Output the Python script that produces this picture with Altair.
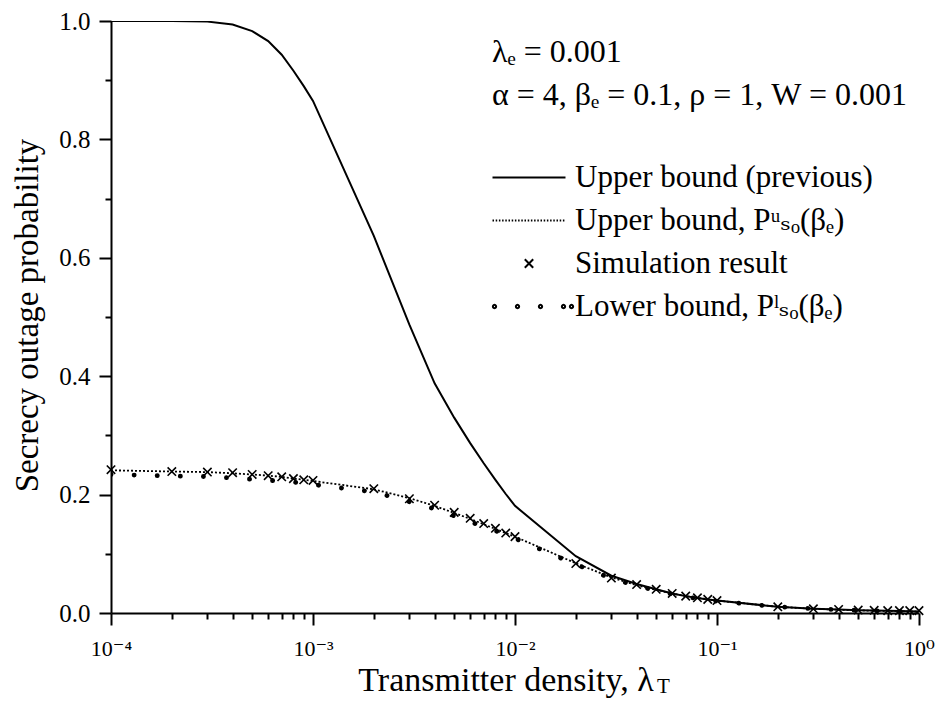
import altair as alt
import pandas as pd

# ---------------- data ----------------
x_vals = [0.0001, 0.0002, 0.0003, 0.0004, 0.0005, 0.0006, 0.0007, 0.0008, 0.0009,
          0.001, 0.002, 0.003, 0.004, 0.005, 0.006, 0.007, 0.008, 0.009,
          0.01, 0.02, 0.03, 0.04, 0.05, 0.06, 0.07, 0.08, 0.09,
          0.1, 0.2, 0.3, 0.4, 0.5, 0.6, 0.7, 0.8, 0.9, 1.0]

upper_prev = [1.0, 1.0, 0.999, 0.994, 0.983, 0.966, 0.943, 0.916, 0.890,
              0.865, 0.637, 0.487, 0.388, 0.330, 0.287, 0.253, 0.225, 0.201,
              0.181, 0.096, 0.063, 0.049, 0.040, 0.033, 0.0285, 0.0255, 0.0228,
              0.021, 0.0105, 0.0072, 0.0058, 0.0048, 0.0041, 0.0036, 0.0032, 0.0029, 0.0026]

upper_pu = [0.241, 0.239, 0.238, 0.236, 0.234, 0.232, 0.230, 0.227, 0.225,
            0.223, 0.209, 0.194, 0.181, 0.169, 0.159, 0.150, 0.142, 0.135,
            0.129, 0.084, 0.060, 0.047, 0.039, 0.033, 0.0285, 0.0255, 0.023,
            0.021, 0.0105, 0.0071, 0.0055, 0.0045, 0.0038, 0.0033, 0.0030, 0.0027, 0.0024]

sim = [0.242, 0.239, 0.238, 0.237, 0.234, 0.232, 0.230, 0.227, 0.225,
       0.224, 0.210, 0.193, 0.182, 0.170, 0.160, 0.151, 0.143, 0.135,
       0.129, 0.0835, 0.059, 0.048, 0.040, 0.033, 0.0285, 0.0256, 0.023,
       0.021, 0.0105, 0.0071, 0.006, 0.005, 0.0045, 0.004, 0.004, 0.004, 0.004]

lower = [0.234, 0.2315, 0.2305, 0.228, 0.226, 0.2243, 0.2228, 0.221, 0.219,
         0.217, 0.2045, 0.188, 0.176, 0.164, 0.154, 0.146, 0.139, 0.133,
         0.126, 0.082, 0.0585, 0.046, 0.038, 0.032, 0.0275, 0.0245, 0.022,
         0.020, 0.0105, 0.0072, 0.0055, 0.0045, 0.0038, 0.0033, 0.0029, 0.0026, 0.0023]

series_names = ["Upper bound (previous)",
                "Upper bound, P\u1d58\u209b\u2092(\u03b2\u2091)",
                "Simulation result",
                "Lower bound, P\u02e1\u209b\u2092(\u03b2\u2091)"]

x_major = [0.0001, 0.001, 0.01, 0.1, 1.0]
x_major_labels = ["10\u207b\u2074", "10\u207b\u00b3", "10\u207b\u00b2", "10\u207b\u00b9", "10\u2070"]
x_minor = [v for v in x_vals if v not in x_major]
y_major = [0.0, 0.2, 0.4, 0.6, 0.8, 1.0]
y_minor = [0.1, 0.3, 0.5, 0.7, 0.9]

annotations = ["\u03bb\u2091 = 0.001", "\u03b1 = 4, \u03b2\u2091 = 0.1, \u03c1 = 1, W = 0.001"]
x_title = "Transmitter density, \u03bb"
x_title_sub = "T"
y_title = "Secrecy outage probability"

# ---------------- build table ----------------
rows = []
for vals, name in zip([upper_prev, upper_pu, sim, lower], series_names):
    for xv, yv in zip(x_vals, vals):
        rows.append({"x": xv, "y": yv, "series": name})
df = pd.DataFrame(rows)

FONT = "'Liberation Serif', 'Times New Roman', Tinos, 'Nimbus Roman', 'DejaVu Serif', 'Noto Serif', serif"
W, H = 808, 592

# legend symbol paths (1 unit = 7 px for symbol size 196)
U = 7.0
L = 36.5 / U
solid_path = f"M{-L:.3f},0L{L:.3f},0"
dot_step = 3.2 / U
dot_len = 1.5 / U
segs = []
p = -L
while p < L:
    segs.append(f"M{p:.3f},0L{min(p + dot_len, L):.3f},0")
    p += dot_step
dotted_path = "".join(segs)
xs = 0.6
cross_path = f"M{-xs},{-xs}L{xs},{xs}M{xs},{-xs}L{-xs},{xs}"
r = 1.6 / U
circ = []
for c in [-34.5, -11.5, 11.5, 34.5, 42.5]:
    cu = c / U
    circ.append(f"M{cu - r:.3f},0a{r:.3f},{r:.3f} 0 1,0 {2*r:.3f},0a{r:.3f},{r:.3f} 0 1,0 {-2*r:.3f},0")
bigdot_path = "".join(circ)

xscale = alt.Scale(type="log", domain=[0.0001, 1.0], nice=False)
yscale = alt.Scale(domain=[0.0, 1.0], nice=False, zero=False)

common_axis = dict(grid=False, domainColor="black", domainWidth=2, tickColor="black",
                   tickWidth=2, labelFont=FONT, labelColor="black",
                   titleFont=FONT, titleColor="black", titleFontWeight="normal")

label_expr = "[" + ",".join(f"'{s}'" for s in x_major_labels) + "][round(log(datum.value)/LN10)+4]"

x_axis_major = alt.Axis(values=x_major, labelExpr=label_expr, tickSize=12, labelPadding=13,
                        labelFontSize=22,
                        labelOverlap=False, labelFlush=False, title=x_title, titleFontSize=34,
                        titleX=394.5, titleY=77, titleBaseline="alphabetic", titleAlign="center",
                        orient="bottom", **common_axis)
y_axis_major = alt.Axis(values=y_major, format=".1f", tickSize=12, labelPadding=9,
                        labelFontSize=25,
                        labelOverlap=False, labelFlush=False, title=y_title, titleFontSize=33,
                        titleX=-74, titleY=H / 2 - 2, titleAngle=270, titleBaseline="alphabetic",
                        titleAlign="center", orient="left", **common_axis)
x_axis_minor = alt.Axis(values=x_minor, labels=False, tickSize=6, domain=False, title=None,
                        orient="bottom", grid=False, tickColor="black", tickWidth=2)
y_axis_minor = alt.Axis(values=y_minor, labels=False, tickSize=6, domain=False, title=None,
                        orient="left", grid=False, tickColor="black", tickWidth=2)

base = alt.Chart(df)

l_prev = base.transform_filter(alt.datum.series == series_names[0]).mark_line(
    color="black", strokeWidth=2, clip=True
).encode(
    x=alt.X("x:Q", scale=xscale, axis=x_axis_major),
    y=alt.Y("y:Q", scale=yscale, axis=y_axis_major),
)

l_pu = base.transform_filter(alt.datum.series == series_names[1]).mark_line(
    color="black", strokeWidth=1.8, strokeDash=[2, 2], clip=True
).encode(
    x=alt.X("x:Q", scale=xscale, axis=x_axis_minor),
    y=alt.Y("y:Q", scale=yscale, axis=y_axis_minor),
)

l_low = base.transform_filter(alt.datum.series == series_names[3]).mark_line(
    color="black", strokeWidth=4.8, strokeDash=[0.1, 23], strokeCap="round", clip=True
).encode(
    x=alt.X("x:Q", scale=xscale, axis=None),
    y=alt.Y("y:Q", scale=yscale, axis=None),
)

pts = base.transform_filter(alt.datum.series == series_names[2]).mark_point(
    filled=False, color="black", strokeWidth=1.6, size=196, opacity=1
).encode(
    x=alt.X("x:Q", scale=xscale, axis=None),
    y=alt.Y("y:Q", scale=yscale, axis=None),
    shape=alt.Shape(
        "series:N",
        scale=alt.Scale(domain=series_names,
                        range=[solid_path, dotted_path, cross_path, bigdot_path]),
        legend=alt.Legend(orient="none", legendX=402.5, legendY=141, title=None,
                          symbolSize=196, symbolStrokeWidth=2, symbolStrokeColor="black",
                          symbolFillColor="black", labelFont=FONT, labelFontSize=31,
                          labelColor="black", labelLimit=700, labelOffset=30.5,
                          rowPadding=11, padding=0, symbolOffset=0),
    ),
)

ann_df = pd.DataFrame({"t": annotations, "i": [0, 1]})
ann1 = alt.Chart(ann_df).transform_filter(alt.datum.i == 0).mark_text(
    font=FONT, fontSize=32, align="left", baseline="alphabetic", color="black"
).encode(text="t:N", x=alt.value(381), y=alt.value(41))
ann2 = alt.Chart(ann_df).transform_filter(alt.datum.i == 1).mark_text(
    font=FONT, fontSize=32, align="left", baseline="alphabetic", color="black"
).encode(text="t:N", x=alt.value(381), y=alt.value(84))

sub_df = pd.DataFrame({"t": [x_title_sub]})
sub = alt.Chart(sub_df).mark_text(
    font=FONT, fontSize=21, align="left", baseline="alphabetic", color="black"
).encode(text="t:N", x=alt.value(546), y=alt.value(672))

chart = alt.layer(l_prev, l_pu, l_low, pts, ann1, ann2, sub).resolve_axis(
    x="independent", y="independent"
).properties(
    width=W, height=H,
    autosize=alt.AutoSizeParams(type="none"),
    padding={"left": 103, "top": 13, "right": 16, "bottom": 85},
    background="white",
).configure_view(stroke=None)

chart.save("out.html", embed_options={"renderer": "svg", "actions": False})
